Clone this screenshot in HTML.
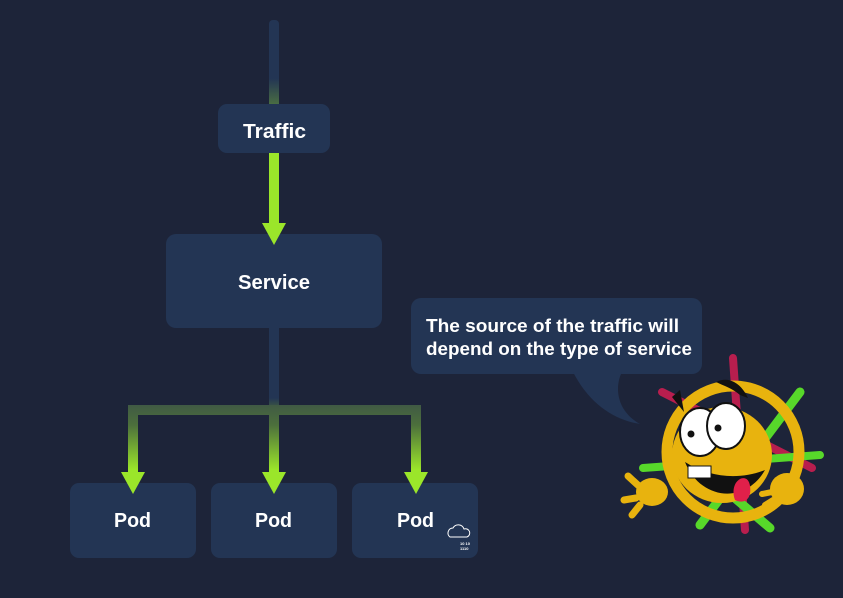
<!DOCTYPE html>
<html><head><meta charset="utf-8"><style>
html,body{margin:0;padding:0;background:#1d2439;}
svg{display:block}
text{font-family:"Liberation Sans",sans-serif;font-weight:bold;fill:#fff}
</style></head><body>
<svg width="843" height="598" viewBox="0 0 843 598" xmlns="http://www.w3.org/2000/svg">
<defs>
<linearGradient id="g1" x1="0" y1="20" x2="0" y2="150" gradientUnits="userSpaceOnUse">
<stop offset="0" stop-color="#233554"/><stop offset="0.45" stop-color="#233554"/><stop offset="0.75" stop-color="#5d8a3a"/><stop offset="1" stop-color="#9be62a"/>
</linearGradient>
<linearGradient id="g2" x1="0" y1="395" x2="0" y2="470" gradientUnits="userSpaceOnUse">
<stop offset="0" stop-color="#3a4f48"/><stop offset="0.4" stop-color="#4c6f3c"/><stop offset="1" stop-color="#9be62a"/>
</linearGradient>
<linearGradient id="g3" x1="0" y1="330" x2="0" y2="410" gradientUnits="userSpaceOnUse">
<stop offset="0" stop-color="#233554"/><stop offset="0.85" stop-color="#233554"/><stop offset="1" stop-color="#44613f"/>
</linearGradient>
</defs>
<rect width="843" height="598" fill="#1d2439"/>
<rect x="269" y="20" width="10" height="90" rx="4" fill="url(#g1)"/>
<rect x="269" y="150" width="10" height="78" fill="#9be62a"/>
<!-- traffic -->
<rect x="218" y="104" width="112" height="49" rx="9" fill="#233554"/>
<text x="243" y="138" font-size="20" textLength="63" lengthAdjust="spacingAndGlyphs">Traffic</text>
<!-- service -->
<rect x="166" y="234" width="216" height="94" rx="10" fill="#233554"/>
<text x="238" y="289" font-size="20" textLength="72" lengthAdjust="spacingAndGlyphs">Service</text>
<polygon points="262,223 286,223 274,245" fill="#9be62a"/>
<!-- branches -->
<rect x="269" y="327" width="10" height="80" fill="url(#g3)"/>
<path d="M128,405 H421 V476 H411 V415 H279 V476 H269 V415 H138 V476 H128 Z" fill="url(#g2)"/>
<!-- pods -->
<rect x="70" y="483" width="126" height="75" rx="9" fill="#233554"/>
<rect x="211" y="483" width="126" height="75" rx="9" fill="#233554"/>
<rect x="352" y="483" width="126" height="75" rx="9" fill="#233554"/>
<polygon points="121,472 145,472 133,494" fill="#9be62a"/>
<polygon points="262,472 286,472 274,494" fill="#9be62a"/>
<polygon points="404,472 428,472 416,494" fill="#9be62a"/>
<text x="114" y="527" font-size="20" textLength="37" lengthAdjust="spacingAndGlyphs">Pod</text>
<text x="255" y="527" font-size="20" textLength="37" lengthAdjust="spacingAndGlyphs">Pod</text>
<text x="397" y="527" font-size="20" textLength="37" lengthAdjust="spacingAndGlyphs">Pod</text>
<path d="M450,537 a5,5 0 0 1 3,-9 a6,6 0 0 1 11,1 a4,4 0 0 1 3,8 z" fill="none" stroke="#fff" stroke-width="1"/>
<text x="460" y="545" font-size="4">10 10</text>
<text x="460" y="550" font-size="4">1110</text>
<!-- bubble -->
<rect x="411" y="298" width="291" height="76" rx="10" fill="#233554"/>
<path d="M573,372 C590,405 615,420 640,424 C615,410 615,385 622,372 Z" fill="#233554"/>
<text x="426" y="332" font-size="18" textLength="253" lengthAdjust="spacingAndGlyphs">The source of the traffic will</text>
<text x="426" y="355" font-size="18" textLength="266" lengthAdjust="spacingAndGlyphs">depend on the type of service</text>
<!-- mascot -->
<g stroke-linecap="round" fill="none">
<line x1="733" y1="358" x2="745" y2="530" stroke="#b81e4e" stroke-width="8"/>
<line x1="662" y1="392" x2="812" y2="468" stroke="#b81e4e" stroke-width="8"/>
<line x1="800" y1="392" x2="700" y2="525" stroke="#57d82a" stroke-width="9"/>
<line x1="643" y1="468" x2="820" y2="455" stroke="#57d82a" stroke-width="8"/>
<line x1="690" y1="460" x2="770" y2="528" stroke="#57d82a" stroke-width="9"/>
</g>
<circle cx="733" cy="452" r="66" fill="none" stroke="#e8b30e" stroke-width="11"/>
<ellipse cx="722" cy="455" rx="50" ry="48" fill="#e8b30e"/>
<path d="M685,462 C700,500 745,505 765,470 C740,480 710,478 685,462 Z" fill="#111"/>
<path d="M735,500 C728,480 748,470 750,486 C752,498 745,505 735,500 Z" fill="#e0204a"/>
<rect x="688" y="466" width="23" height="12" fill="#fff" stroke="#111"/>
<ellipse cx="700" cy="432" rx="20" ry="24" fill="#fff" stroke="#111" stroke-width="2"/>
<ellipse cx="726" cy="426" rx="19" ry="23" fill="#fff" stroke="#111" stroke-width="2"/>
<circle cx="691" cy="434" r="3.5" fill="#111"/>
<circle cx="718" cy="428" r="3.5" fill="#111"/>
<path d="M672,397 L680,390 L684,412 Z" fill="#111"/>
<path d="M716,382 C730,375 742,385 748,398 L740,395 C732,388 724,386 716,382 Z" fill="#111"/>
<ellipse cx="652" cy="492" rx="16" ry="14" fill="#e8b30e"/>
<path d="M640,487 L628,476 M636,498 L624,500 M640,505 L632,515" stroke="#e8b30e" stroke-width="7" stroke-linecap="round"/>
<ellipse cx="787" cy="489" rx="17" ry="16" fill="#e8b30e"/>
<path d="M772,492 L762,494 M773,500 L765,505" stroke="#e8b30e" stroke-width="6" stroke-linecap="round"/>
</svg>
</body></html>
